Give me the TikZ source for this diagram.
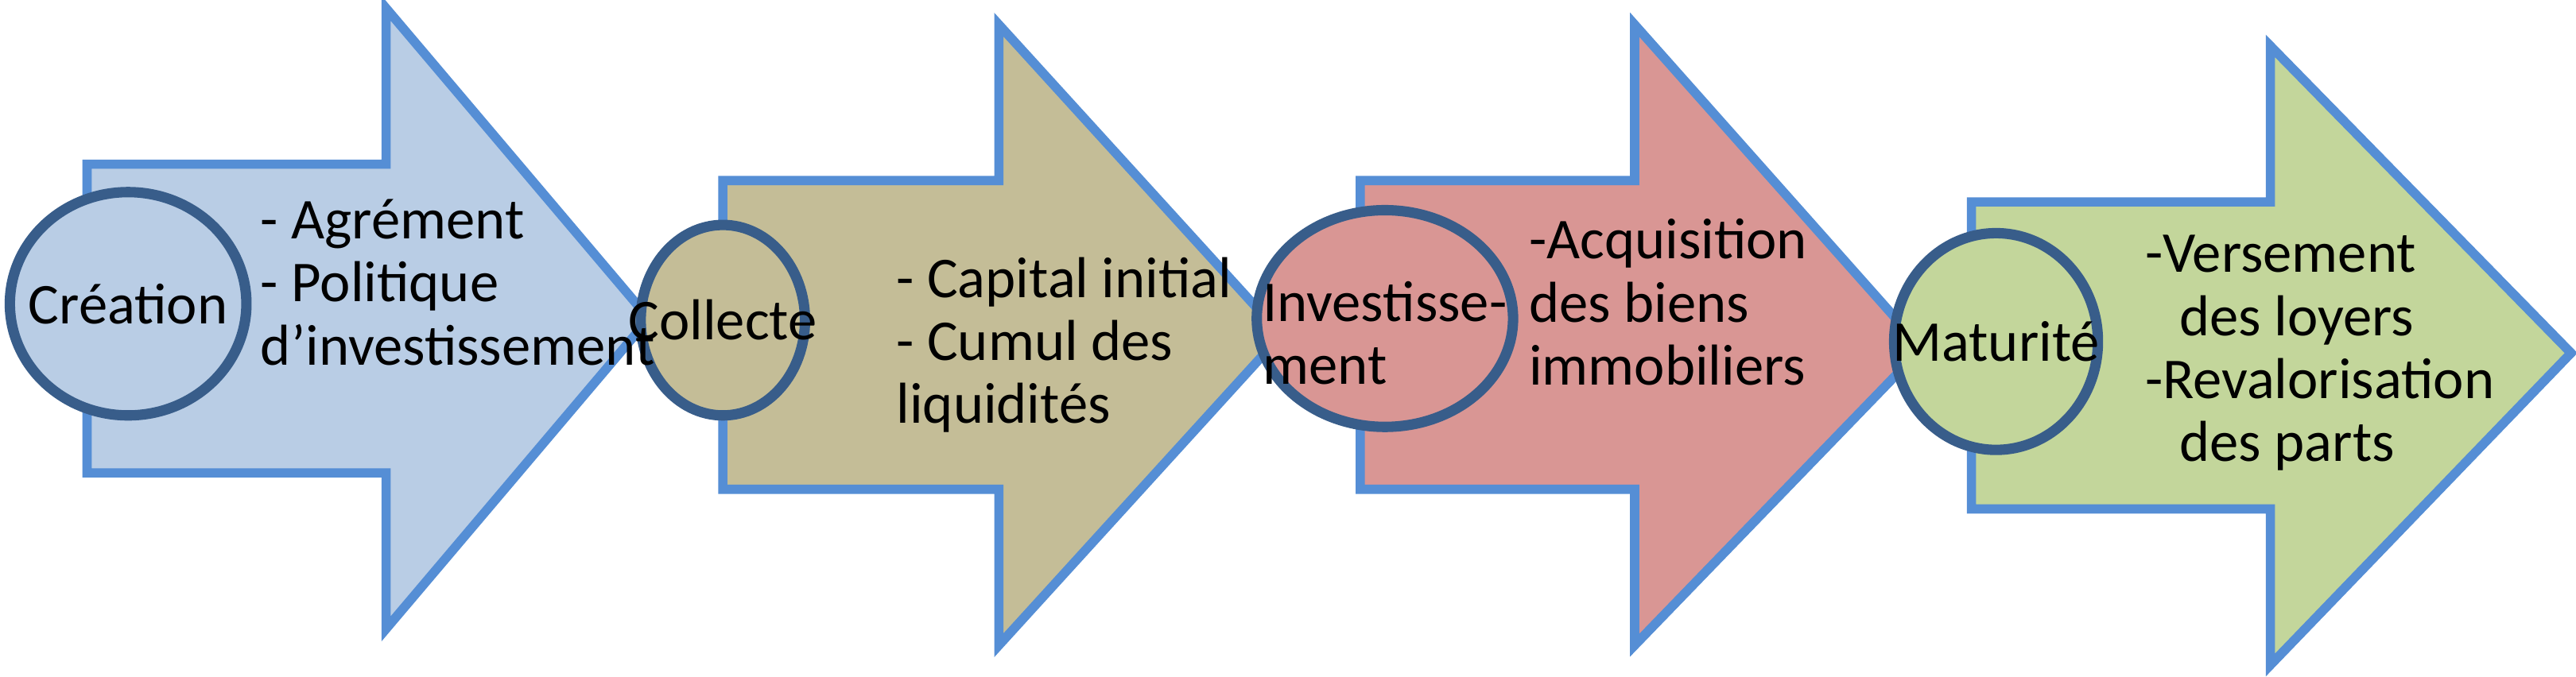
\documentclass[tikz,border=0pt]{standalone}
\usepackage{fontspec}
\setmainfont{Carlito}
\definecolor{arrowline}{HTML}{558ED5}
\definecolor{ovalline}{HTML}{385D8A}
\definecolor{fillA}{HTML}{B9CDE5}
\definecolor{fillB}{HTML}{C4BD97}
\definecolor{fillC}{HTML}{D99694}
\definecolor{fillD}{HTML}{C3D69B}
\tikzset{
	step arrow/.style = {draw=arrowline, line width=1.6pt, line join=miter},
	phase/.style      = {draw=ovalline, line width=1.8pt},
	label/.style      = {anchor=west, align=left, font=\fontsize{10}{10.9}\selectfont, inner sep=0pt},
	phase name/.style = {font=\fontsize{10}{10.9}\selectfont, align=left, inner sep=0pt}
}
\begin{document}
\begin{tikzpicture}[x=0.01cm, y=-0.01cm]
	\useasboundingbox (0,0) rectangle (1568,412);
	% arrows: left, top of body, bottom of body, head start, head top, head bottom, tip
	\draw[step arrow, fill=fillA] (53,100) -- (235,100) -- (235,5) -- (395,194) -- (235,383) -- (235,288) -- (53,288) -- cycle;
	\draw[step arrow, fill=fillB] (440,110) -- (608,110) -- (608,15) -- (780,204) -- (608,393) -- (608,298) -- (440,298) -- cycle;
	\draw[step arrow, fill=fillC] (828,110) -- (995,110) -- (995,15) -- (1170,212) -- (995,393) -- (995,298) -- (828,298) -- cycle;
	\draw[step arrow, fill=fillD] (1200,123) -- (1382,123) -- (1382,28) -- (1565,215) -- (1382,405) -- (1382,310) -- (1200,310) -- cycle;

	% phases
	\draw[phase, fill=fillA] (78,185) ellipse [x radius=72, y radius=68];
	\draw[phase, fill=fillB] (440,195) ellipse [x radius=50, y radius=58];
	\draw[phase, fill=fillC] (843,194) ellipse [x radius=78, y radius=66];
	\draw[phase, fill=fillD] (1215,208) ellipse [x radius=62, y radius=66];
	\node[phase name] (creation) at (78,185) {Création};
	\node[phase name] (collecte) at (440,195) {Collecte};
	\node[phase name, anchor=west] (invest) at (768,203) {Investisse-\\ment};
	\node[phase name] (maturite) at (1215,208) {Maturité};

	% details
	\node[label] (detA) at (158,172) {- Agrément\\- Politique\\d’investissement};
	\node[label] (detB) at (545,210) {- Capital initial\\- Cumul des\\liquidités};
	\node[label] (detC) at (930,184) {-Acquisition\\des biens\\immobiliers};
	\node[label] (detD) at (1305,215) {-Versement\\\hspace*{0.6em}des loyers\\-Revalorisation\\\hspace*{0.6em}des parts};
\end{tikzpicture}
\end{document}
